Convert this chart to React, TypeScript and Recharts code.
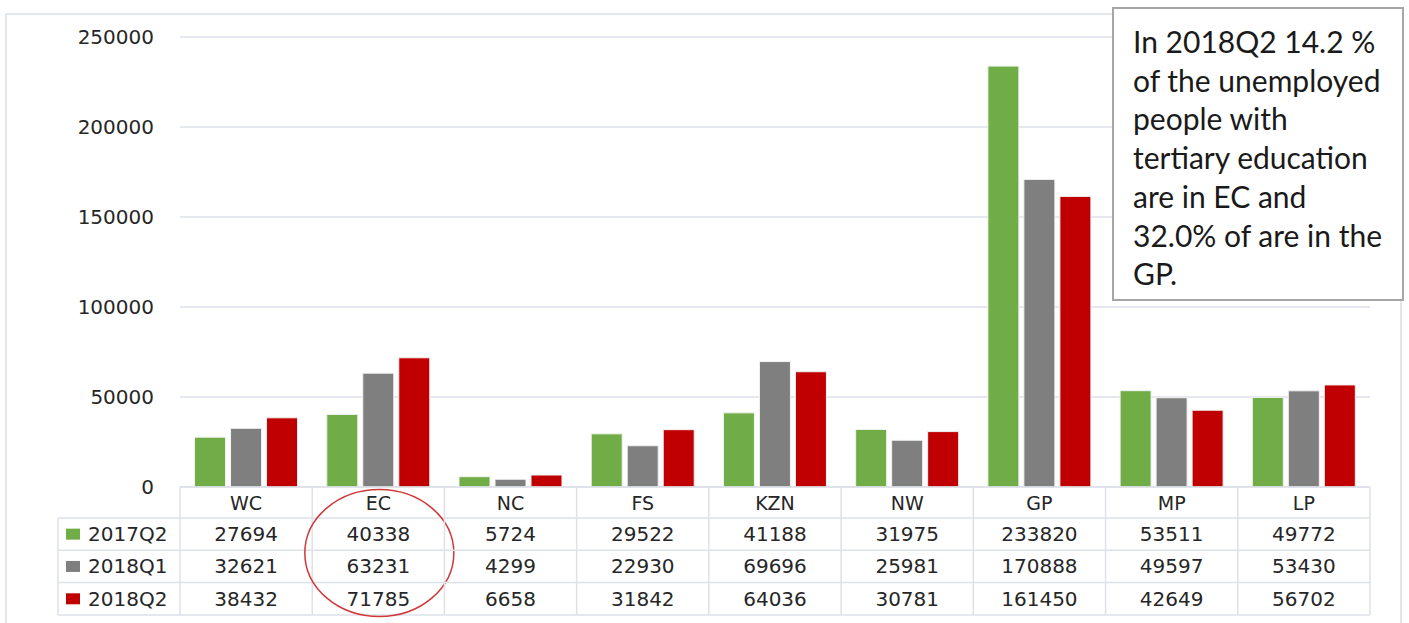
import React from 'react';
import { BarChart, Bar, XAxis, YAxis, CartesianGrid } from 'recharts';

// provinces and the three survey quarters
const provinces = ['WC', 'EC', 'NC', 'FS', 'KZN', 'NW', 'GP', 'MP', 'LP'];
const q2017Q2 = [27694, 40338, 5724, 29522, 41188, 31975, 233820, 53511, 49772];
const q2018Q1 = [32621, 63231, 4299, 22930, 69696, 25981, 170888, 49597, 53430];
const q2018Q2 = [38432, 71785, 6658, 31842, 64036, 30781, 161450, 42649, 56702];
const yTicks = [0, 50000, 100000, 150000, 200000, 250000];
const highlighted = 'EC';
const note = [
  'In 2018Q2 14.2 %',
  'of the unemployed',
  'people with',
  'tertiary education',
  'are in EC and',
  '32.0% of are in the',
  'GP.',
];

const series = [
  { key: 'q2017Q2', name: '2017Q2', color: '#70ad47', values: q2017Q2 },
  { key: 'q2018Q1', name: '2018Q1', color: '#7f7f7f', values: q2018Q1 },
  { key: 'q2018Q2', name: '2018Q2', color: '#c00000', values: q2018Q2 },
];

const data = provinces.map((p, i) => ({
  name: p,
  q2017Q2: q2017Q2[i],
  q2018Q1: q2018Q1[i],
  q2018Q2: q2018Q2[i],
}));

const W = 1409;
const H = 623;
const MARGIN = { top: 37, right: 39, left: 0, bottom: 7 };
const Y_W = 180;
const PLOT_W = W - MARGIN.left - MARGIN.right - Y_W;
const COL_W = PLOT_W / provinces.length;
const X_H = 129;
const ROWS = [0, 31, 63.3, 95.6, 128];
const LEGEND_W = 122;
const LINE = '#dde1e8';
const FONT = '"DejaVu Sans", Verdana, sans-serif';

// the x axis tick draws one column of the data table
const TableTick = (props: any) => {
  const { x, y, index, payload } = props;
  const left = x - COL_W / 2;
  const right = x + COL_W / 2;
  const bottom = y + ROWS[4];
  return (
    <g>
      {ROWS.map((r, i) => (
        <line key={`h${i}`} x1={left} x2={right} y1={y + r} y2={y + r} stroke={LINE} strokeWidth={1.5} />
      ))}
      <line x1={left} x2={left} y1={y} y2={bottom} stroke={LINE} strokeWidth={1.5} />
      {index === provinces.length - 1 && (
        <line x1={right} x2={right} y1={y} y2={bottom} stroke={LINE} strokeWidth={1.5} />
      )}
      <text x={x} y={y + 15.5} textAnchor="middle" dominantBaseline="central"
        fontFamily={FONT} fontSize={19} fill="#262626">{payload.value}</text>
      {series.map((s, i) => (
        <text key={s.key} x={x} y={y + (ROWS[i + 1] + ROWS[i + 2]) / 2} textAnchor="middle"
          dominantBaseline="central" fontFamily={FONT} fontSize={20} fill="#262626">
          {s.values[index]}
        </text>
      ))}
      {index === 0 && (
        <g>
          {[1, 2, 3, 4].map(i => (
            <line key={`l${i}`} x1={left - LEGEND_W} x2={left} y1={y + ROWS[i]} y2={y + ROWS[i]}
              stroke={LINE} strokeWidth={1.5} />
          ))}
          <line x1={left - LEGEND_W} x2={left - LEGEND_W} y1={y + ROWS[1]} y2={bottom} stroke={LINE} strokeWidth={1.5} />
          {series.map((s, i) => {
            const cy = y + (ROWS[i + 1] + ROWS[i + 2]) / 2;
            return (
              <g key={`lg${s.key}`}>
                <rect x={left - LEGEND_W + 8} y={cy - 5.5} width={14} height={11} fill={s.color} />
                <text x={left - LEGEND_W + 30} y={cy} dominantBaseline="central"
                  fontFamily={FONT} fontSize={20} fill="#262626">{s.name}</text>
              </g>
            );
          })}
        </g>
      )}
      {payload.value === highlighted && (
        <ellipse cx={x + 1} cy={y + 66} rx={74.5} ry={63.5} fill="none" stroke="#d0393a" strokeWidth={1.5} />
      )}
    </g>
  );
};

export default function App() {
  return (
    <div style={{ position: 'absolute', left: 0, top: 0, width: W, height: H, background: '#fff', overflow: 'hidden' }}>
      <div style={{
        position: 'absolute', left: 5, top: 13, width: 1397, height: 640,
        border: '2px solid #e3e6ec', boxSizing: 'border-box',
      }} />
      <div style={{ position: 'absolute', left: 0, top: 0 }}>
        <BarChart width={W} height={H} data={data} margin={MARGIN}
          barCategoryGap="11%" barGap={5}>
          <CartesianGrid vertical={false} stroke={LINE} strokeWidth={1.5} />
          <XAxis dataKey="name" height={X_H} interval={0} tickSize={0} tickMargin={0}
            axisLine={false} tickLine={false} tick={<TableTick />} />
          <YAxis width={Y_W} domain={[0, 250000]} ticks={yTicks} interval={0}
            axisLine={false} tickLine={false} tickSize={0} tickMargin={26}
            tick={{ fill: '#262626', fontSize: 20, fontFamily: FONT }} />
          {series.map(s => (
            <Bar key={s.key} dataKey={s.key} name={s.name} fill={s.color}
              stroke="#f2f2f2" strokeWidth={1} isAnimationActive={false} />
          ))}
        </BarChart>
      </div>
      <div style={{
        position: 'absolute', left: 1112, top: 7, width: 292, height: 294,
        border: '2px solid #a6a6a6', boxSizing: 'border-box', background: '#fff',
        padding: '13px 0 0 19px', fontFamily: 'Lato, "Open Sans", sans-serif',
        fontSize: 30, lineHeight: '38.7px', color: '#1a1a1a', whiteSpace: 'nowrap',
      }}>
        {note.map((t, i) => <div key={i}>{t}</div>)}
      </div>
    </div>
  );
}
